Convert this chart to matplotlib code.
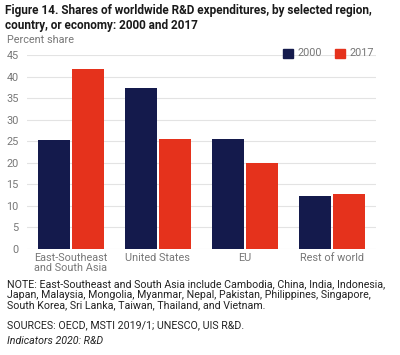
import numpy as np
import matplotlib.pyplot as plt
from matplotlib.patches import Rectangle

plt.rcParams['font.family'] = ['Roboto', 'DejaVu Sans']

# data
categories = ['East-Southeast\nand South Asia', 'United States', 'EU', 'Rest of world']
share_2000 = [25.3, 37.3, 25.5, 12.3]
share_2017 = [41.8, 25.4, 20.0, 12.8]
yticks = [0, 5, 10, 15, 20, 25, 30, 35, 40, 45]

navy = '#141a4c'
red = '#e5321c'
gray = '#777777'

fig = plt.figure(figsize=(4, 3.55), dpi=100)
ax = fig.add_axes([27/400, 1 - 249/355, 349/400, 194/355])

x = np.arange(len(categories))
w = 0.368
ax.bar(x - 0.195, share_2000, w, color=navy, zorder=3)
ax.bar(x + 0.195, share_2017, w, color=red, zorder=3)

ax.set_xlim(-0.5, 3.5)
ax.set_ylim(0, 45)
ax.set_yticks(yticks)
ax.set_yticklabels([str(t) for t in yticks])
ax.set_xticks(x)
ax.set_xticklabels(categories, linespacing=0.95)
ax.tick_params(axis='both', length=0, labelsize=7.8, labelcolor=gray)
ax.tick_params(axis='y', pad=6)
ax.tick_params(axis='x', pad=3)
ax.grid(axis='y', color='#e3e3e3', linewidth=0.8, zorder=0)
for s in ax.spines.values():
    s.set_visible(False)

# title and labels
fig.text(5/400, 1 - 4/355, 'Figure 14. Shares of worldwide R&D expenditures, by selected region,\ncountry, or economy: 2000 and 2017',
         fontsize=8.5, fontweight='bold', va='top', ha='left', linespacing=1.2, color='#1a1a1a')
fig.text(7/400, 1 - 40/355, 'Percent share', fontsize=7.8, color=gray, va='center')

# legend
for lx, col, lab in [(283, navy, '2000'), (335, red, '2017')]:
    fig.patches.append(Rectangle((lx/400, 1 - 58/355), 10/400, 9/355, color=col,
                                 transform=fig.transFigure))
    fig.text((lx + 14)/400, 1 - 53.5/355, lab, fontsize=7.8, color=gray, va='center')

# notes
note = ('NOTE: East-Southeast and South Asia include Cambodia, China, India, Indonesia,\n'
        'Japan, Malaysia, Mongolia, Myanmar, Nepal, Pakistan, Philippines, Singapore,\n'
        'South Korea, Sri Lanka, Taiwan, Thailand, and Vietnam.')
fig.text(7/400, 1 - 279/355, note, fontsize=7.7, color='#222222', va='top', linespacing=1.08)
fig.text(7/400, 1 - 325/355, 'SOURCES: OECD, MSTI 2019/1; UNESCO, UIS R&D.', fontsize=7.7,
         color='#222222', va='center')
fig.text(7/400, 1 - 341/355, 'Indicators 2020: R&D', fontsize=7.7, style='italic',
         color='#222222', va='center')

fig.savefig('out.png', dpi=100)
